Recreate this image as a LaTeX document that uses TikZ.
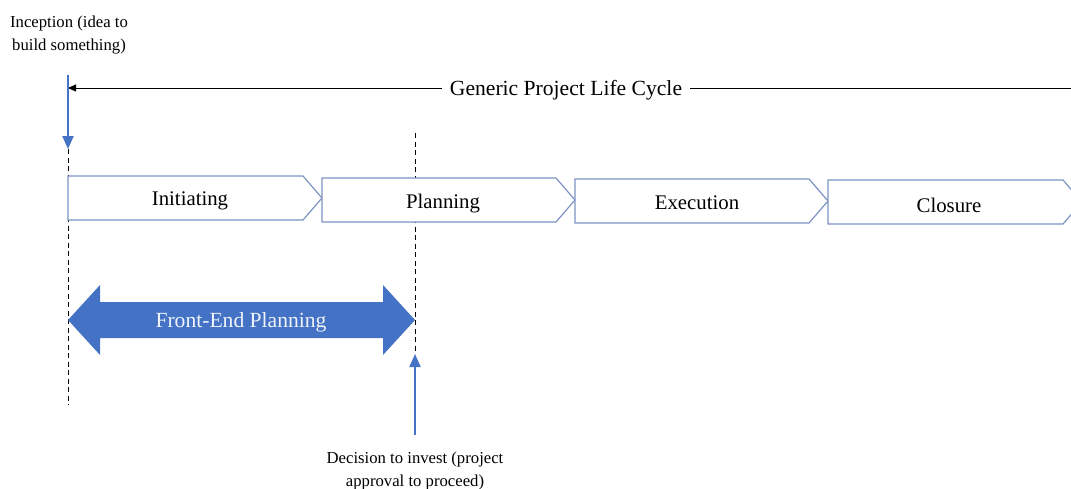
\documentclass[tikz,border=0pt]{standalone}
\usepackage{fontspec}
\setmainfont{Liberation Serif}
\usetikzlibrary{arrows.meta}
\definecolor{phaseline}{HTML}{7D93C2}
\definecolor{accent}{HTML}{4472C4}
\tikzset{
  phase/.style={draw=phaseline, line width=1.2pt, fill=white},
  phaselabel/.style={font=\fontsize{20.8}{24}\selectfont, inner sep=0pt},
  note/.style={font=\fontsize{16.7}{23}\selectfont, align=center, inner sep=0pt},
  marker/.style={draw=black, dash pattern=on 5pt off 3.5pt, line width=0.8pt},
  bluearrow/.style={draw=accent, line width=2pt, -{Triangle[length=13pt,width=11pt]}},
}
\begin{document}
\begin{tikzpicture}[x=1pt,y=-1pt]
\useasboundingbox (0,0) rectangle (1071,488);
\clip (0,0) rectangle (1071,488);

% overall life-cycle bar
\node[font=\fontsize{21.6}{25}\selectfont, fill=white, inner xsep=8pt] (gplc) at (566,90) {Generic Project Life Cycle};
\coordinate (lcright) at (1071,88);
\coordinate (lcleft) at (68,88);
\draw[line width=0.8pt] (lcright) -- (lcright -| gplc.east);
\draw[line width=0.8pt, -{Triangle[length=8pt,width=7pt]}] (lcleft -| gplc.west) -- (lcleft);

% milestone guide lines (behind the phases)
\coordinate (incTop) at (68,75);
\coordinate (incTip) at (68,149);
\coordinate (incEnd) at (68,405);
\coordinate (decTop) at (415,133);
\coordinate (decTip) at (415,354);
\coordinate (decBase) at (415,435);
\draw[marker] (incTip) -- (incEnd);
\draw[marker] (decTop) -- (decTip);

% phases
\draw[phase] (68,176) -- (303,176) -- (322,198) -- (303,220) -- (68,220) -- cycle;
\draw[phase] (322,178) -- (556,178) -- (575,200) -- (556,222) -- (322,222) -- cycle;
\draw[phase] (575,179) -- (809,179) -- (828,201) -- (809,223) -- (575,223) -- cycle;
\draw[phase] (828,180) -- (1063,180) -- (1082,202) -- (1063,224) -- (828,224) -- cycle;
\node[phaselabel] (initiating) at (190,201) {Initiating};
\node[phaselabel] (planning) at (443,204) {Planning};
\node[phaselabel] (execution) at (697,203) {Execution};
\node[phaselabel] (closure) at (949,205) {Closure};

% inception marker
\node[note] (inception) at (69,35) {Inception (idea to\\build something)};
\draw[bluearrow] (incTop) -- (incTip);

% decision marker
\draw[bluearrow] (decBase) -- (decTip);
\node[note] (decision) at (415,471) {Decision to invest (project\\approval to proceed)};

% front-end planning span
\fill[accent] (68,320) -- (100,285) -- (100,302) -- (383,302) -- (383,285) -- (415,320)
  -- (383,355) -- (383,338) -- (100,338) -- (100,355) -- cycle;
\node[font=\fontsize{21.6}{25}\selectfont, text=white!92!accent, inner sep=0pt] (fep) at (241,322) {Front-End Planning};
\end{tikzpicture}
\end{document}
